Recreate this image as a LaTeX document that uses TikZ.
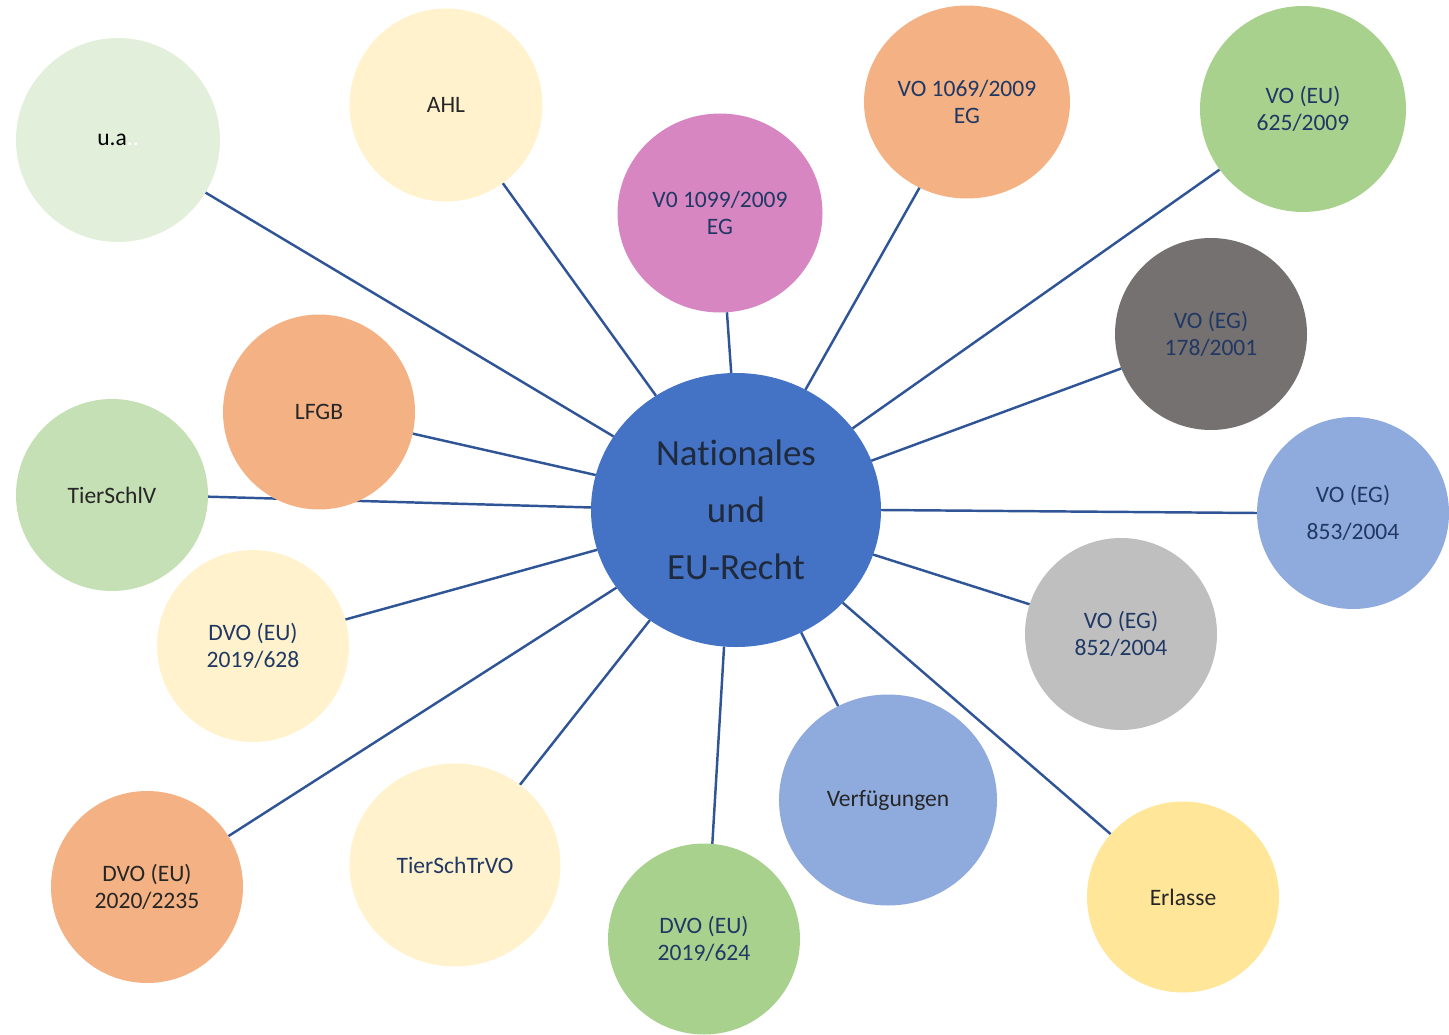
\documentclass[tikz,border=0pt]{standalone}
\usepackage{fontspec}
\setmainfont[Ligatures={NoCommon}]{Carlito}
\usetikzlibrary{shapes.geometric}
\pgfdeclarelayer{bg}
\pgfsetlayers{bg,main}
\definecolor{linec}{HTML}{2F5597}
\definecolor{navyt}{HTML}{203864}
\definecolor{darkt}{HTML}{262626}
\definecolor{ctext}{HTML}{1F2A3C}
\definecolor{cblue}{HTML}{4472C4}
\definecolor{lgreen}{HTML}{E2EFDA}
\definecolor{cream}{HTML}{FFF2CC}
\definecolor{orchid}{HTML}{D886C2}
\definecolor{peach}{HTML}{F4B183}
\definecolor{mgreen}{HTML}{A9D18E}
\definecolor{sgreen}{HTML}{C5E0B4}
\definecolor{dgray}{HTML}{767171}
\definecolor{lblue}{HTML}{8FAADC}
\definecolor{lgray}{HTML}{BFBFBF}
\definecolor{yell}{HTML}{FFE699}
\tikzset{
  bubble/.style={ellipse, inner sep=0pt, outer sep=0pt, align=center,
    font=\fontsize{13.4}{15.3}\selectfont},
  conn/.style={draw=linec, line width=1.4pt},
}
\begin{document}
\begin{tikzpicture}
\useasboundingbox (0,0) rectangle (28.98,-20.7);
% nodes
\node[bubble, fill=cblue, minimum width=5.80cm, minimum height=5.48cm, text=ctext,
  font=\fontsize{21}{32.3}\selectfont] (c) at (14.72,-10.20) {Nationales\\und\\EU-Recht};
\node[bubble, fill=lgreen, minimum width=4.08cm, minimum height=4.08cm, text=black] (ua) at (2.36,-2.80) {u.a\textcolor{white}{..}};
\node[bubble, fill=cream, minimum width=3.86cm, minimum height=3.86cm, text=darkt] (ahl) at (8.92,-2.10) {AHL};
\node[bubble, fill=orchid, minimum width=4.10cm, minimum height=3.98cm, text=navyt] (v1099) at (14.40,-4.26) {V0 1099/2009\\EG};
\node[bubble, fill=peach, minimum width=4.12cm, minimum height=3.86cm, text=navyt] (v1069) at (19.34,-2.04) {VO 1069/2009\\EG};
\node[bubble, fill=mgreen, minimum width=4.12cm, minimum height=4.12cm, text=navyt] (v625) at (26.06,-2.18) {VO (EU)\\625/2009};
\node[bubble, fill=dgray, minimum width=3.84cm, minimum height=3.84cm, text=navyt] (v178) at (24.22,-6.68) {VO (EG)\\178/2001};
\node[bubble, fill=lblue, minimum width=3.84cm, minimum height=3.84cm, text=navyt,
  font=\fontsize{13.4}{21}\selectfont] (v853) at (27.06,-10.26) {VO (EG)\\853/2004};
\node[bubble, fill=lgray, minimum width=3.84cm, minimum height=3.84cm, text=navyt] (v852) at (22.42,-12.68) {VO (EG)\\852/2004};
\node[bubble, fill=yell, minimum width=3.84cm, minimum height=3.82cm, text=darkt] (erl) at (23.66,-17.94) {Erlasse};
\node[bubble, fill=lblue, minimum width=4.36cm, minimum height=4.22cm, text=darkt] (verf) at (17.76,-16.00) {Verfügungen};
\node[bubble, fill=mgreen, minimum width=3.84cm, minimum height=3.82cm, text=navyt] (d624) at (14.08,-18.78) {DVO (EU)\\2019/624};
\node[bubble, fill=cream, minimum width=4.22cm, minimum height=4.06cm, text=navyt] (tstr) at (9.10,-17.30) {TierSchTrVO};
\node[bubble, fill=peach, minimum width=3.84cm, minimum height=3.84cm, text=darkt] (d2235) at (2.94,-17.74) {DVO (EU)\\2020/2235};
\node[bubble, fill=cream, minimum width=3.84cm, minimum height=3.84cm, text=navyt] (d628) at (5.06,-12.92) {DVO (EU)\\2019/628};
\node[bubble, fill=sgreen, minimum width=3.84cm, minimum height=3.84cm, text=darkt] (tsv) at (2.24,-9.90) {TierSchlV};
\node[bubble, fill=peach, minimum width=3.84cm, minimum height=3.90cm, text=darkt] (lfgb) at (6.38,-8.24) {LFGB};
% connectors (drawn behind the bubbles)
\begin{pgfonlayer}{bg}
\draw[conn] (c.149.5) -- (ua.-31.2);
\draw[conn] (c.125.7) -- (ahl.-54.4);
\draw[conn] (c.92.9) -- (v1099.-86.7);
\draw[conn] (c.60.3) -- (v1069.-119.1);
\draw[conn] (c.35.0) -- (v625.-144.6);
\draw[conn] (c.20.0) -- (v178.201.2);
\draw[conn] (c.-0.4) -- (v853.180);
\draw[conn] (c.-18.3) -- (v852.162.3);
\draw[conn] (c.-41.1) -- (erl.139.5);
\draw[conn] (c.-62.4) -- (verf.118.2);
\draw[conn] (c.265.9) -- (d624.85.3);
\draw[conn] (c.232.1) -- (tstr.51.4);
\draw[conn] (c.213.3) -- (d2235.32.7);
\draw[conn] (c.196.3) -- (d628.16.3);
\draw[conn] (c.179.2) -- (tsv.-1.7);
\draw[conn] (c.166.9) -- (lfgb.-13.5);
\end{pgfonlayer}
\end{tikzpicture}
\end{document}
